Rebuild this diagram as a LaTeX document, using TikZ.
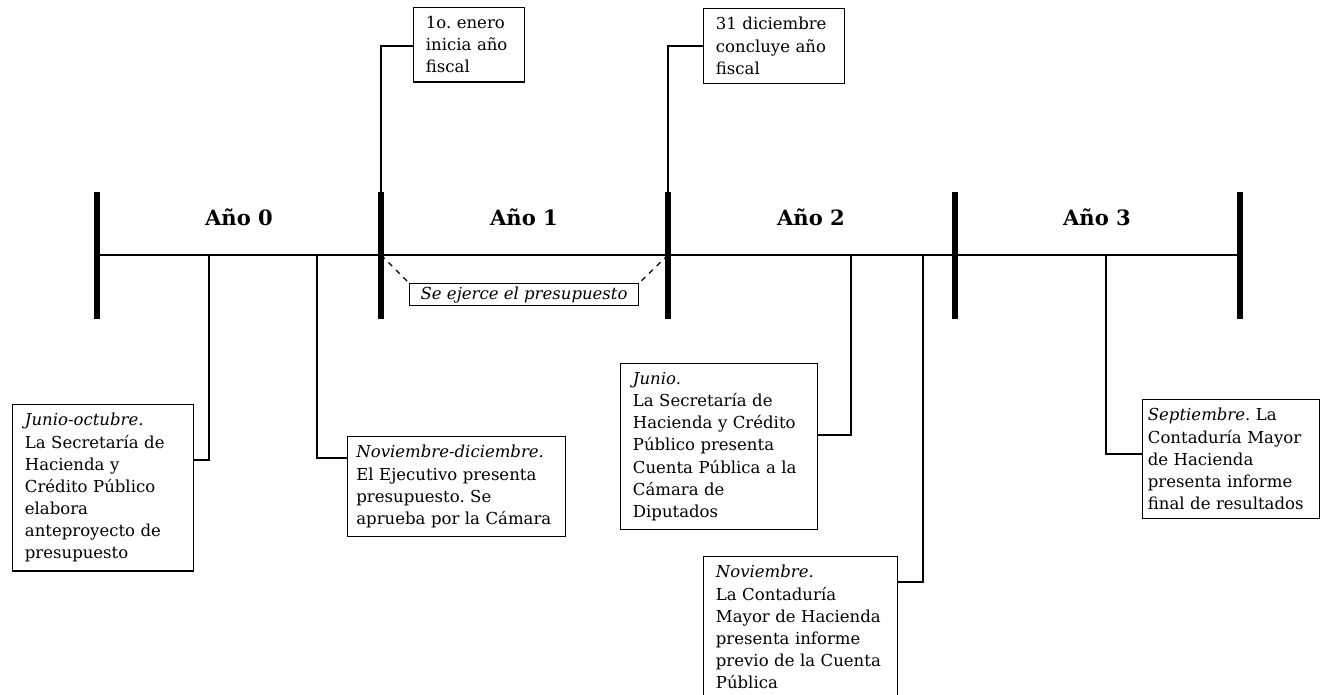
\documentclass[tikz,border=0pt]{standalone}
\usepackage{fontspec}
\setmainfont{DejaVu Serif}
\usetikzlibrary{positioning}
\frenchspacing
\hyphenpenalty=10000

\tikzset{
  marca/.style={line width=3pt},
  eje/.style={line width=1.5pt},
  guia/.style={line width=0.7pt},
  evento/.style={draw, line width=0.7pt, anchor=north west, align=left,
    inner xsep=7pt, inner ysep=5pt, font=\fontsize{9.4}{12.6}\selectfont},
  anio/.style={font=\fontsize{12}{14}\selectfont\bfseries}
}

\begin{document}
\begin{tikzpicture}[x=0.02cm, y=-0.02cm]
		\useasboundingbox (0,0) rectangle (1321,694);

		\foreach \i/\x in {0/97, 1/381, 2/668, 3/955, 4/1240}
			\coordinate (m\i) at (\x,255);
		\draw[eje] (m0) -- (m4);
		\foreach \i in {0,...,4}
			\draw[marca] ([yshift=1.26cm]m\i) -- ([yshift=-1.28cm]m\i);

		\node[anio] (ano0) at (239,217) {Año 0};
		\node[anio] (ano1) at (524,217) {Año 1};
		\node[anio] (ano2) at (811,217) {Año 2};
		\node[anio] (ano3) at (1097,217) {Año 3};

		\node[evento, text width=1.73cm] (enero) at (413,7) {1o. enero\\inicia año\\fiscal};
		\node[evento, text width=2.33cm] (diciembre) at (703,8) {31 diciembre\\concluye año\\fiscal};
		\node[draw, line width=0.7pt, anchor=north west, inner sep=0pt, minimum width=4.58cm,
			minimum height=0.44cm, font=\fontsize{9.4}{12}\selectfont\itshape] (ejerce) at (409,283) {Se ejerce el presupuesto};
		\node[evento, text width=3.13cm] (junoct) at (12,404) {\textit{Junio-octubre.}\\La Secretaría de\\Hacienda y\\Crédito Público\\elabora\\anteproyecto de\\presupuesto};
		\node[evento, inner xsep=5pt, text width=4.01cm] (novdic) at (347,436) {\textit{Noviembre-diciembre.}\\El Ejecutivo presenta\\presupuesto. Se\\aprueba por la Cámara};
		\node[evento, text width=3.45cm] (junio) at (620,363) {\textit{Junio.}\\La Secretaría de\\Hacienda y Crédito\\Público presenta\\Cuenta Pública a la\\Cámara de\\Diputados};
		\node[evento, text width=3.39cm] (noviembre) at (703,556) {\textit{Noviembre.}\\La Contaduría\\Mayor de Hacienda\\presenta informe\\previo de la Cuenta\\Pública};
		\node[evento, inner xsep=3pt, text width=3.33cm] (septiembre) at (1142,399) {\textit{Septiembre}. La\\Contaduría Mayor\\de Hacienda\\presenta informe\\final de resultados};

		\coordinate (k1) at (381,46);
		\coordinate (k2) at (668,46);
		\coordinate (t0) at (209,255);
		\coordinate (k0) at (209,460);
		\coordinate (t1) at (317,255);
		\coordinate (k3) at (317,458);
		\coordinate (t2) at (851,255);
		\coordinate (k4) at (851,435);
		\coordinate (t3) at (923,255);
		\coordinate (k5) at (923,582);
		\coordinate (t4) at (1106,255);
		\coordinate (k6) at (1106,454);

		\draw[guia] (m1) -- (k1) -- (k1 -| enero.west);
		\draw[guia] (m2) -- (k2) -- (k2 -| diciembre.west);
		\draw[guia] (t0) -- (k0) -- (k0 -| junoct.east);
		\draw[guia] (t1) -- (k3) -- (k3 -| novdic.west);
		\draw[guia] (t2) -- (k4) -- (k4 -| junio.east);
		\draw[guia] (t3) -- (k5) -- (k5 -| noviembre.east);
		\draw[guia] (t4) -- (k6) -- (k6 -| septiembre.west);
		\draw[guia, dashed] (m1) -- (ejerce.north west);
		\draw[guia, dashed] (m2) -- (ejerce.north east);
\end{tikzpicture}
\end{document}
